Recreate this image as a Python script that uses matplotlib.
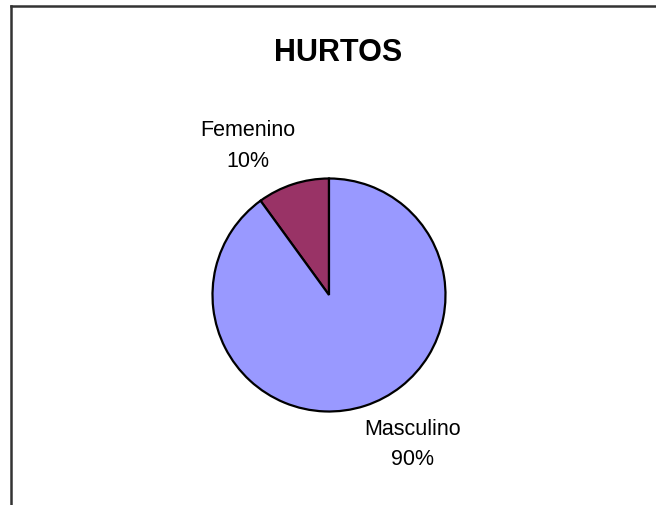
import matplotlib.pyplot as plt
from matplotlib.lines import Line2D

# data
categories = ['Femenino', 'Masculino']
shares = [10, 90]
colors = ['#993366', '#9999FF']

W, H = 656, 506
fig = plt.figure(figsize=(W / 100, H / 100), dpi=100)

# chart frame (only top and left edges are visible)
fig.add_artist(Line2D([10.5 / W, 1.0], [1 - 6.5 / H, 1 - 6.5 / H], color='#333333', lw=1.8))
fig.add_artist(Line2D([10.8 / W, 10.8 / W], [0.0, 1 - 6.5 / H], color='#333333', lw=1.8))

fig.text(338.5 / W, 1 - 53.5 / H, 'HURTOS', ha='center', va='center',
         fontsize=22, fontweight='bold', family='Liberation Sans')

# pie: centre (329, 296) px, radius 116.5 px
cx, cy, r = 329, 296, 116.5
ax = fig.add_axes([(cx - r) / W, (H - cy - r) / H, 2 * r / W, 2 * r / H])
ax.pie(shares, colors=colors, startangle=90, counterclock=True,
       wedgeprops=dict(edgecolor='black', linewidth=1.6))
ax.set_xlim(-1, 1)
ax.set_ylim(-1, 1)
ax.set_aspect('equal')
ax.axis('off')

label_pos = [(-0.70, 1.29), (0.715, -1.275)]
for name, val, (lx, ly) in zip(categories, shares, label_pos):
    ax.text(lx, ly, f'{name}\n{val}%', ha='center', va='center', fontsize=15.5,
            family='Liberation Sans', linespacing=1.6, clip_on=False)

fig.savefig('out.png', dpi=100)
